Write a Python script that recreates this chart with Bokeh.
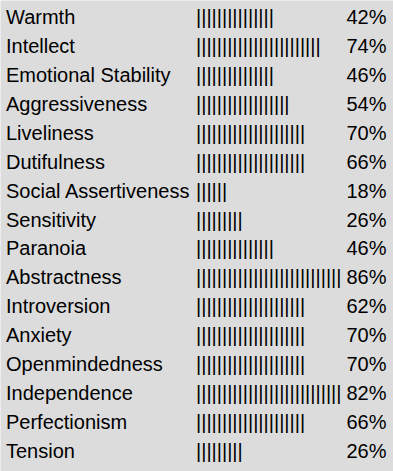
from bokeh.plotting import figure
from bokeh.models import Range1d, ColumnDataSource
from bokeh.core.properties import value
from bokeh.embed import file_html
from bokeh.resources import INLINE

traits = ["Warmth", "Intellect", "Emotional Stability", "Aggressiveness",
          "Liveliness", "Dutifulness", "Social Assertiveness", "Sensitivity",
          "Paranoia", "Abstractness", "Introversion", "Anxiety",
          "Openmindedness", "Independence", "Perfectionism", "Tension"]
percents = [42, 74, 46, 54, 70, 66, 18, 26, 46, 86, 62, 70, 70, 82, 66, 26]
bar_counts = [15, 24, 15, 18, 21, 21, 6, 9, 15, 28, 21, 21, 21, 28, 21, 9]

W, H = 393, 471
BG = "#dcdcdc"
FONT = "Liberation Sans"
row_h = 28.93
first_base = 16.5

ys = [first_base + i * row_h for i in range(len(traits))]
src = ColumnDataSource(dict(
    y=ys,
    label=traits,
    bars=["|" * n for n in bar_counts],
    pct=[f"{v}%" for v in percents],
))

p = figure(width=W, height=H, output_backend="svg", toolbar_location=None,
           x_range=Range1d(0, W), y_range=Range1d(H, 0))
p.axis.visible = False
p.grid.visible = False
p.outline_line_color = None
p.min_border = 0
p.background_fill_color = BG
p.border_fill_color = BG

common = dict(source=src, y="y", text_font=value(FONT), text_font_size="20px",
              text_color="#000000", text_baseline="alphabetic")
p.text(x=5.5, text="label", text_align="left", **common)
p.text(x=195.5, text="bars", text_align="left", **common)
p.text(x=386, text="pct", text_align="right", **common)

html = file_html(p, INLINE)
html = html.replace("<body>", '<body style="background:%s">' % BG, 1)
open("out.html", "w").write(html)
